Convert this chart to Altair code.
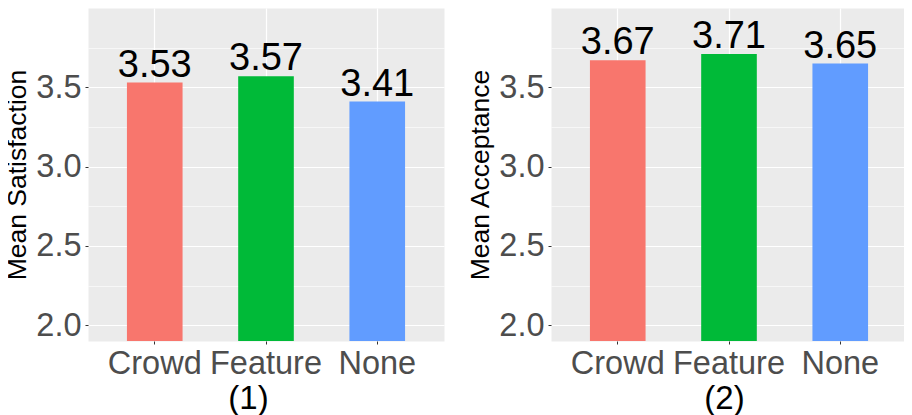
import altair as alt
import pandas as pd

groups = ["Crowd", "Feature", "None"]
satisfaction = [3.53, 3.57, 3.41]
acceptance = [3.67, 3.71, 3.65]
colors = ["#F8766D", "#00BA38", "#619CFF"]
y_ticks = [2.0, 2.25, 2.5, 2.75, 3.0, 3.25, 3.5, 3.75]
y_domain = [1.9, 4.0]

FONT = "Liberation Sans"


def panel(values, ytitle, xtitle, title_x):
    df = pd.DataFrame({"group": groups, "value": values})
    x = alt.X(
        "group:N",
        sort=groups,
        scale=alt.Scale(paddingInner=0.5, paddingOuter=0.35),
        axis=alt.Axis(
            title=xtitle,
            titleFontSize=33,
            titleFontWeight="normal",
            titleColor="black",
            titleFont=FONT,
            titleX=title_x,
            titleY=67,
            titleBaseline="alphabetic",
            titleAlign="center",
            labelFontSize=32.5,
            labelColor="#4D4D4D",
            labelFont=FONT,
            labelAngle=0,
            labelPadding=3,
            tickSize=3,
            tickColor="#333333",
            tickWidth=1,
            domain=False,
            grid=True,
            gridColor="white",
            gridWidth=1.2,
            bandPosition=0.5,
        ),
    )
    y = alt.Y(
        "value:Q",
        scale=alt.Scale(domain=y_domain, nice=False, zero=False),
        axis=alt.Axis(
            title=ytitle,
            titleFontSize=26.5,
            titleFontWeight="normal",
            titleColor="black",
            titleFont=FONT,
            titlePadding=4,
            values=y_ticks,
            labelExpr="datum.value % 0.5 == 0 ? format(datum.value, '.1f') : ''",
            labelFontSize=32.5,
            labelColor="#4D4D4D",
            labelFont=FONT,
            labelPadding=4,
            tickSize=3,
            tickColor="#333333",
            tickWidth=1,
            tickOpacity={"condition": {"test": "datum.value % 0.5 != 0", "value": 0}, "value": 1},
            domain=False,
            grid=True,
            gridColor="white",
            gridWidth={"condition": {"test": "datum.value % 0.5 != 0", "value": 0.6}, "value": 1.2},
        ),
    )
    bars = alt.Chart(df).mark_bar(clip=True).encode(
        x=x,
        y=y,
        color=alt.Color("group:N", scale=alt.Scale(domain=groups, range=colors), legend=None),
    )
    text = alt.Chart(df).mark_text(
        fontSize=38, font=FONT, color="black", baseline="alphabetic", dy=-6
    ).encode(
        x=alt.X("group:N", sort=groups),
        y=alt.Y("value:Q"),
        text=alt.Text("value:Q", format=".2f"),
    )
    return alt.layer(bars, text).properties(width=356, height=333)


left = panel(satisfaction, "Mean Satisfaction", "(1)", 160)
right = panel(acceptance, "Mean Acceptance", "(2)", 173)

chart = (
    alt.hconcat(left, right, spacing=22)
    .properties(
        padding={"left": 80, "top": 0, "right": 816, "bottom": 399},
        autosize=alt.AutoSizeParams(type="none"),
        background="white",
    )
    .configure(font=FONT)
    .configure_view(fill="#EBEBEB", stroke="transparent")
)

chart.save("out.html", embed_options={"renderer": "svg", "actions": False})
